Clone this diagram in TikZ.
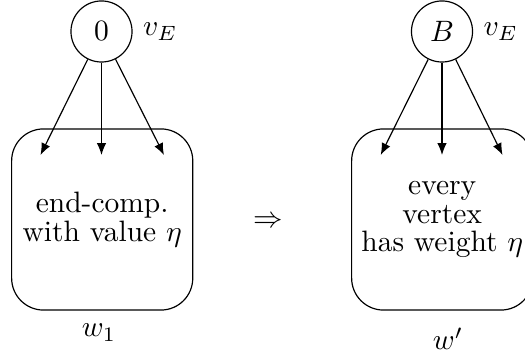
\documentclass[tikz,border=0pt]{standalone}
\usetikzlibrary{arrows.meta}
\begin{document}
\begin{tikzpicture}[x=0.339pt,y=-0.339pt,
  vert/.style={draw,circle,minimum size=20.7pt,inner sep=0pt,font=\fontsize{10pt}{12pt}\selectfont},
  comp/.style={draw,rounded corners=10.8pt,minimum width=61.4pt,minimum height=61.4pt,inner sep=0pt,align=center,font=\fontsize{10pt}{9.8pt}\selectfont},
  edge/.style={-{Latex[length=4pt,width=3.2pt]}},
  lab/.style={anchor=base,inner sep=0pt}]
\useasboundingbox (0,0) rectangle (525,352);
% left
\node[vert,label={right:$v_E$}] (c1) at (101.5,31.5) {$0$};
\node[comp] (b1) at (102.2,219.5) {end-comp.\\with value $\eta$};
\coordinate (a1) at (40.5,155);
\coordinate (a2) at (101.5,155);
\coordinate (a3) at (164,155);
\draw[edge] (c1) -- (a1);
\draw[edge] (c1) -- (a2);
\draw[edge] (c1) -- (a3);
\node[lab] (w1) at (99,337) {$w_1$};
% implication
\node (imp) at (268,221.7) {$\Rightarrow$};
% right
\node[vert,label={right:$v_E$}] (c2) at (442,31.5) {$B$};
\node[comp] (b2) at (442.2,219.5) {every\\vertex\\has weight $\eta$};
\coordinate (d1) at (380.7,155);
\coordinate (d2) at (442,155);
\coordinate (d3) at (502.5,155);
\draw[edge] (c2) -- (d1);
\draw[edge] (c2) -- (d2);
\draw[edge] (c2) -- (d3);
\node[lab] (w2) at (448,350) {$w'$};
\end{tikzpicture}
\end{document}
